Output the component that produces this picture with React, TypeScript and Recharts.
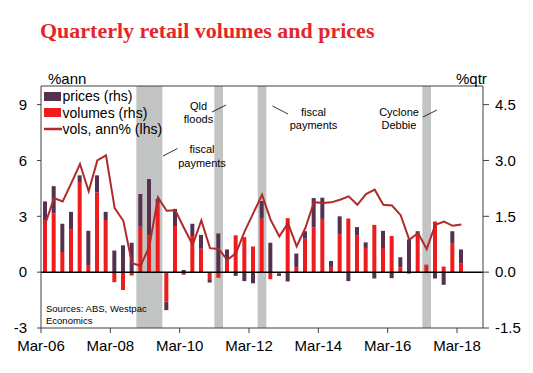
import {
  Bar,
  ComposedChart,
  Line,
  ReferenceArea,
  ReferenceLine,
  XAxis,
  YAxis,
} from "recharts";

// quarters Mar-06 .. Mar-18
const quarters = [
  "Mar-06", "Jun-06", "Sep-06", "Dec-06", "Mar-07", "Jun-07", "Sep-07", "Dec-07",
  "Mar-08", "Jun-08", "Sep-08", "Dec-08", "Mar-09", "Jun-09", "Sep-09", "Dec-09",
  "Mar-10", "Jun-10", "Sep-10", "Dec-10", "Mar-11", "Jun-11", "Sep-11", "Dec-11",
  "Mar-12", "Jun-12", "Sep-12", "Dec-12", "Mar-13", "Jun-13", "Sep-13", "Dec-13",
  "Mar-14", "Jun-14", "Sep-14", "Dec-14", "Mar-15", "Jun-15", "Sep-15", "Dec-15",
  "Mar-16", "Jun-16", "Sep-16", "Dec-16", "Mar-17", "Jun-17", "Sep-17", "Dec-17",
  "Mar-18",
];

// %qtr, rhs
const volumes = [
  1.4, 1.58, 0.54, 1.14, 2.42, 0.19, 2.14, 1.4, -0.27, -0.48, -0.09, 1.22, 1.0,
  1.86, -0.79, 1.24, -0.07, 0.97, 0.63, -0.21, -0.15, 0.31, 0.99, 0.94, 0.69,
  1.44, -0.19, -0.04, 1.45, 0.14, 0.9, 1.2, 1.43, 0.14, 1.02, 1.44, 0.98, 0.65,
  1.27, 0.65, 0.97, 0.13, -0.04, 1.0, 0.18, 1.36, 0.15, 0.78, 0.24,
];

const prices = [
  0.5, 0.73, 0.76, 0.48, 0.18, 0.92, 0.46, 0.22, 0.58, 0.72, 0.79, 0.88, 1.5,
  0.11, -0.23, 0.46, 0.06, 0.33, 0.37, -0.07, 1.04, 0.3, -0.1, -0.24, -0.3,
  0.47, 0.79, -0.06, -0.25, 0.36, 0.2, 0.79, 0.57, 0.16, 0.48, -0.24, 0.23,
  0.15, -0.17, 0.46, -0.16, 0.27, 0.88, 0.1, 0.02, -0.17, -0.34, 0.32, 0.37,
];

// %ann, lhs
const vols = [
  2.6, 3.98, 3.8, 4.78, 5.81, 4.34, 6.0, 6.27, 3.44, 2.76, 0.48, 0.34, 1.38,
  4.01, 3.3, 3.32, 2.37, 1.47, 2.78, 1.29, 1.24, 0.66, 1.02, 2.19, 3.17, 4.16,
  2.81, 1.92, 2.63, 1.38, 2.37, 3.76, 3.71, 3.75, 3.89, 4.07, 3.62, 4.19, 4.43,
  3.62, 3.58, 3.06, 1.74, 2.1, 1.24, 2.54, 2.72, 2.49, 2.56,
];

const tickLabels = ["Mar-06", "Mar-08", "Mar-10", "Mar-12", "Mar-14", "Mar-16", "Mar-18"];
const xTicks = [0, 8, 16, 24, 32, 40, 48];
const leftTicks = [-3, 0, 3, 6, 9];
const rightTicks = [-1.5, 0, 1.5, 3, 4.5];

// shaded events, in quarter units from Mar-06
const shaded = [
  [11, 14],
  [20, 21],
  [25, 26],
  [44, 45],
];

const data = quarters.map((q, i) => ({
  x: i + 0.5,
  q,
  volumes: volumes[i],
  prices: prices[i],
  vols: vols[i],
}));

const FONT = "'Liberation Sans', Arial, sans-serif";
const RED = "#ee1c1c";
const PURPLE = "#55304f";
const LINE = "#b02a2a";
const AXIS = "#404040";

const tickStyle = { fontSize: 15, fill: "#000", fontFamily: FONT };

export default function App() {
  return (
    <div style={{ position: "absolute", left: 0, top: 0, width: 533, height: 373, background: "#fff" }}>
      <ComposedChart
        width={533}
        height={373}
        data={data}
        stackOffset="sign"
        margin={{ top: 86, right: 0, left: 0, bottom: 15 }}
      >
        <XAxis
          dataKey="x"
          type="number"
          domain={[0, 51]}
          ticks={xTicks}
          interval={0}
          tickFormatter={(v: number) => tickLabels[v / 8]}
          tick={tickStyle}
          tickSize={5}
          tickMargin={7}
          height={30}
          stroke={AXIS}
          allowDecimals={false}
        />
        <YAxis
          yAxisId="left"
          domain={[-3, 10]}
          ticks={leftTicks}
          interval={0}
          width={41}
          tick={tickStyle}
          tickSize={4}
          tickMargin={10}
          stroke={AXIS}
        />
        <YAxis
          yAxisId="right"
          orientation="right"
          domain={[-1.5, 5]}
          ticks={rightTicks}
          interval={0}
          width={50}
          tick={tickStyle}
          tickSize={6}
          tickMargin={6}
          tickFormatter={(v: number) => v.toFixed(1)}
          stroke={AXIS}
        />
        {shaded.map(([a, b]) => (
          <ReferenceArea
            key={a}
            x1={a}
            x2={b}
            yAxisId="left"
            fill="#c2c3c3"
            fillOpacity={1}
            stroke="none"
          />
        ))}
        <ReferenceLine y={10} yAxisId="left" stroke={AXIS} strokeWidth={1} />
        <Bar dataKey="volumes" stackId="a" yAxisId="right" fill={RED} barSize={4} isAnimationActive={false} />
        <Bar dataKey="prices" stackId="a" yAxisId="right" fill={PURPLE} barSize={4} isAnimationActive={false} />
        <ReferenceLine y={0} yAxisId="left" stroke="#000" strokeWidth={1.5} />
        <Line
          dataKey="vols"
          yAxisId="left"
          type="linear"
          stroke={LINE}
          strokeWidth={2}
          dot={false}
          isAnimationActive={false}
        />
      </ComposedChart>
      <svg
        width={533}
        height={373}
        style={{ position: "absolute", left: 0, top: 0, pointerEvents: "none" }}
        fontFamily={FONT}
      >
        <text x={40} y={38} fontFamily="'Liberation Serif', 'Times New Roman', serif" fontWeight="bold" fontSize={22} fill="#e3262b">
          Quarterly retail volumes and prices
        </text>
        <text x={48} y={84} fontSize={15}>%ann</text>
        <text x={456} y={84} fontSize={15}>%qtr</text>

        {/* legend */}
        <rect x={44} y={92} width={17} height={9} fill={PURPLE} />
        <text x={62.5} y={101} fontSize={14}>prices (rhs)</text>
        <rect x={44} y={108} width={17} height={9} fill={RED} />
        <text x={62.5} y={117.5} fontSize={14}>volumes (rhs)</text>
        <line x1={44} y1={129} x2={62} y2={129} stroke={LINE} strokeWidth={2.5} />
        <text x={62.5} y={134} fontSize={14}>vols, ann% (lhs)</text>

        {/* annotations */}
        <g fontSize={11} textAnchor="middle" fill="#000">
          <text x={198.5} y={109.5}>Qld</text>
          <text x={198.5} y={123}>floods</text>
          <line x1={212} y1={112} x2={226} y2={105} stroke="#000" strokeWidth={0.8} />
          <text x={202} y={153}>fiscal</text>
          <text x={202} y={166.5}>payments</text>
          <line x1={163} y1={156} x2={177.5} y2={148.5} stroke="#000" strokeWidth={0.8} />
          <text x={313.5} y={116}>fiscal</text>
          <text x={313.5} y={129}>payments</text>
          <line x1={272.5} y1={106} x2={288} y2={114} stroke="#000" strokeWidth={0.8} />
          <text x={399} y={116}>Cyclone</text>
          <text x={399} y={129}>Debbie</text>
          <line x1={423} y1={117} x2={437} y2={110} stroke="#000" strokeWidth={0.8} />
        </g>

        <text x={46} y={312} fontSize={9.5}>Sources: ABS, Westpac</text>
        <text x={46} y={324} fontSize={9.5}>Economics</text>
      </svg>
    </div>
  );
}
